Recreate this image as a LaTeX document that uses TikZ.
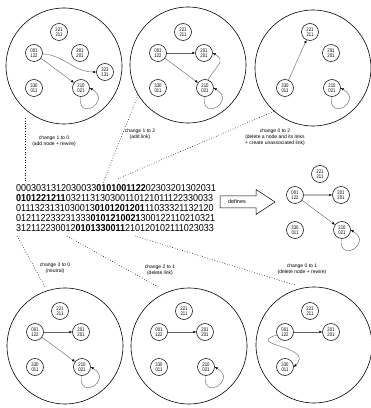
\documentclass[tikz,border=0pt]{standalone}
\usepackage{fontspec}
\setmainfont{Liberation Sans}
\newfontfamily\nodefont{Liberation Sans}[FakeStretch=0.8]
\newfontfamily\genefont{Liberation Sans}[FakeStretch=0.9]
\usetikzlibrary{arrows.meta,calc}

\begin{document}
\begin{tikzpicture}[x=1pt,y=1pt,
  panel/.style={draw,circle,line width=0.6pt,minimum size=116pt,inner sep=0pt},
  gnode/.style={draw,circle,line width=0.5pt,minimum size=17pt,inner sep=0pt,align=center,
    font={\nodefont\fontsize{5.3}{5.2}\selectfont}},
  link/.style={draw=gray!75!black,line width=0.4pt,-{Latex[length=3pt,width=2.4pt,color=black]}},
  loopback/.style={out=-95,in=-30,distance=26pt},
  mutation/.style={dotted,line width=0.6pt},
  note/.style={align=center,inner sep=0pt,font={\fontsize{5}{6}\selectfont}},
]
\useasboundingbox (0,0) rectangle (371,408);
\def\fullset{221/211/-5/34,001/122/-30/13,201/201/16/13,330/011/-30/-22,210/021/17/-22}

% the mutated networks
\node[panel] (tl) at (64,342) {};
\node[panel] (tm) at (188,343) {};
\node[panel] (tr) at (313,340) {};
\node[panel] (bl) at (65,62) {};
\node[panel] (bm) at (189,62) {};
\node[panel] (br) at (314,63) {};

% top left: change 1 to 0
\begin{scope}[shift={(64,342)}]
\foreach \up/\lo/\dx/\dy in \fullset
  \node[gnode] (tl\up) at (\dx,\dy) {\up\\\lo};
\node[gnode] (tl323) at (41,-6) {323\\131};
\end{scope}
\draw[link] (tl001) to[out=-5,in=180] (tl323);
\draw[link] (tl001) -- (tl210);
\draw[link] (tl210.-95) to[loopback] (tl210.east);

% top middle: change 1 to 2
\begin{scope}[shift={(188,342)}]
\foreach \up/\lo/\dx/\dy in \fullset
  \node[gnode] (tm\up) at (\dx,\dy) {\up\\\lo};
\end{scope}
\draw[link] (tm001) -- (tm201);
\draw[link] (tm001) -- (tm210);
\draw[link] (tm210.70) to[out=60,in=-30,looseness=1.5] (tm201.east);
\draw[link] (tm210.-95) to[loopback] (tm210.east);

% top right: change 0 to 2
\begin{scope}[shift={(315,342)}]
\foreach \up/\lo/\dx/\dy in {221/211/-5/34,201/201/16/13,330/011/-30/-22,210/021/17/-22}
  \node[gnode] (tr\up) at (\dx,\dy) {\up\\\lo};
\end{scope}
\draw[link] (tr330) -- (tr221);
\draw[link] (tr210.-95) to[loopback] (tr210.east);

% the network defined by the genes
\begin{scope}[shift={(325,200)}]
\foreach \up/\lo/\dx/\dy in \fullset
  \node[gnode] (df\up) at (\dx,\dy) {\up\\\lo};
\end{scope}
\draw[link,draw=gray!55,line width=1.1pt] (df001) -- (df201);
\draw[link] (df001) -- (df210);
\draw[link] (df210.-95) to[loopback] (df210.east);

% bottom left: change 3 to 0
\begin{scope}[shift={(65,63)}]
\foreach \up/\lo/\dx/\dy in \fullset
  \node[gnode] (bl\up) at (\dx,\dy) {\up\\\lo};
\end{scope}
\draw[link] (bl001) -- (bl201);
\draw[link] (bl001) -- (bl210);
\draw[link] (bl210.-95) to[loopback] (bl210.east);

% bottom middle: change 2 to 1
\begin{scope}[shift={(189,63)}]
\foreach \up/\lo/\dx/\dy in \fullset
  \node[gnode] (bm\up) at (\dx,\dy) {\up\\\lo};
\end{scope}
\draw[link] (bm001) -- (bm201);
\draw[link] (bm210.-95) to[loopback] (bm210.east);

% bottom right: change 0 to 1
\begin{scope}[shift={(315,63)}]
\foreach \up/\lo/\dx/\dy in {221/211/-5/34,001/122/-30/13,201/201/16/13,330/011/-30/-22}
  \node[gnode] (br\up) at (\dx,\dy) {\up\\\lo};
\end{scope}
\draw[link] (br001) -- (br201);
\draw[link] (br001.200) .. controls ($(br001.200)+(-33,-10)$) and ($(br330.east)+(22,21)$) .. (br330.east);

% the genes
\node[anchor=west,align=left,inner sep=0pt,font={\genefont\fontsize{10}{10}\selectfont}] (genes) at (16,199.5) {%
0003031312030033\textbf{0101001122}02303201302031\\
\textbf{0101221211}032113130300110121011122330033\\
0111323131030013\textbf{0101201201}11033321132120\\
012112233231333\textbf{0101210021}300122110210321\\
312112230012\textbf{0101330011}210120102111023033};

% defines arrow
\draw[line width=0.5pt] (220,200) -- (256,200) -- (256,193.5) -- (275,206) -- (256,218.5) -- (256,212) -- (220,212) -- cycle;
\node[inner sep=0pt,font={\fontsize{5.5}{6}\selectfont}] (defines) at (237,206) {defines};

% the mutations
\coordinate (tlfoot) at (25,290);
\coordinate (gene10) at (25,225);
\coordinate (gene12) at (103,225);
\coordinate (gene02) at (117,229);
\coordinate (gene30) at (17,172);
\coordinate (gene21) at (67,172);
\coordinate (gene01) at (135,172);
\coordinate (blhead) at (45,121);
\coordinate (bmhead) at (160,120);
\coordinate (brhead) at (295,123);
\draw[mutation] (tlfoot) -- (gene10);
\draw[mutation] (tm.211) -- (gene12);
\draw[mutation] (tr.228) -- (gene02);
\draw[mutation] (gene30) -- (blhead);
\draw[mutation] (gene21) -- (bmhead);
\draw[mutation] (gene01) -- (brhead);

\node[note] (n10) at (54,266.5) {change 1 to 0\\(add node + rewire)};
\node[note] (n12) at (140,273.5) {change 1 to 2\\(add link)};
\node[note] (n02) at (275,271) {change 0 to 2\\(delete a node and its links\\+ create unassociated link)};
\node[note] (n30) at (55,140) {change 3 to 0\\(neutral)};
\node[note] (n21) at (160,138) {change 2 to 1\\(delete link)};
\node[note] (n01) at (302,139) {change 0 to 1\\(delete node + rewire)};
\end{tikzpicture}
\end{document}
